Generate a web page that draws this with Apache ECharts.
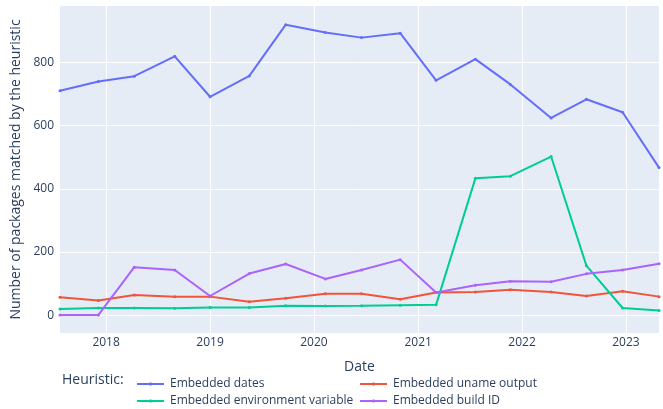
<!DOCTYPE html>
<html>
<head>
<meta charset="utf-8">
<script src="https://cdn.jsdelivr.net/npm/echarts@6/dist/echarts.min.js"></script>
<style>html,body{margin:0;padding:0;background:#fff;}#c{width:663px;height:409px;}</style>
</head>
<body>
<div id="c"></div>
<script>
const dates = ['2017-07-23','2017-12-05','2018-04-10','2018-08-30','2019-01-01','2019-05-19','2019-09-24','2020-02-10','2020-06-16','2020-10-30','2021-03-05','2021-07-21','2021-11-21','2022-04-13','2022-08-15','2022-12-20','2023-04-27'];
const embeddedDates = [710, 739, 756, 819, 691, 757, 919, 894, 878, 892, 743, 810, 730, 624, 683, 642, 467];
const embeddedUname = [57, 47, 64, 59, 59, 43, 54, 68, 68, 51, 72, 74, 81, 74, 61, 76, 59];
const embeddedEnv = [20, 23, 23, 22, 25, 25, 30, 29, 30, 32, 33, 433, 440, 502, 157, 23, 15];
const embeddedBuildId = [1, 1, 152, 143, 61, 132, 162, 115, 143, 176, 72, 95, 108, 106, 131, 143, 163];
const yearTicks = ['2018','2019','2020','2021','2022','2023'];
const yTicks = [0, 200, 400, 600, 800];

const seriesNames = ['Embedded dates','Embedded uname output','Embedded environment variable','Embedded build ID'];
const seriesData = [embeddedDates, embeddedUname, embeddedEnv, embeddedBuildId];
const colors = ['#636efa','#EF553B','#00cc96','#ab63fa'];
const txt = '#2a3f5f';
const font = 'Open Sans';

function ts(s){ const p = s.split('-').map(Number); return Date.UTC(p[0], p[1]-1, p[2]); }
const yearVals = yearTicks.map(y => Date.UTC(+y, 0, 1));

const chart = echarts.init(document.getElementById('c'), null, {renderer:'canvas'});
const legendPos = [[137,380],[360,380],[137,397],[360,397]];
const legendIcon = 'path://M0,1h27v2h-27z M12.5,0.5h2v3h-2z';
chart.setOption({
  animation: false,
  color: colors,
  textStyle: {fontFamily: font, color: txt},
  grid: {left: 60, right: 4, top: 6, bottom: 76, show: true, backgroundColor: '#E5ECF6', borderWidth: 0},
  xAxis: {
    type: 'value',
    min: ts(dates[0]), max: ts(dates[dates.length-1]),
    name: 'Date', nameLocation: 'middle', nameGap: 27,
    nameTextStyle: {fontFamily: font, fontSize: 14, color: txt},
    axisLine: {show: false}, 
    axisTick: {show: false, customValues: yearVals},
    axisLabel: {customValues: yearVals, fontFamily: font, fontSize: 12, color: txt, margin: 4,
      formatter: v => String(new Date(v).getUTCFullYear())},
    splitLine: {show: true, lineStyle: {color: '#ffffff', width: 1}}
  },
  yAxis: {
    type: 'value', min: -56, max: 978,
    name: 'Number of packages matched by the heuristic', nameLocation: 'middle', nameGap: 25,
    nameTextStyle: {fontFamily: font, fontSize: 14, color: txt},
    axisLine: {show: false},
    axisTick: {show: false, customValues: yTicks},
    axisLabel: {customValues: yTicks, fontFamily: font, fontSize: 12, color: txt, margin: 6},
    splitLine: {show: true, lineStyle: {color: '#ffffff', width: 1}}
  },
  graphic: [{type: 'text', left: 62, top: 373, style: {text: 'Heuristic:', font: '14px "Open Sans"', fill: txt}}],
  legend: seriesNames.map((n, i) => ({
    data: [{name: n, icon: legendIcon}], left: legendPos[i][0], top: legendPos[i][1] - 2, padding: 0,
    itemWidth: 27, itemHeight: 4, itemGap: 0,
    textStyle: {fontFamily: font, fontSize: 12, color: txt, padding: [0,0,0,1]}
  })),
  series: seriesNames.map((n, i) => ({
    name: n, type: 'line',
    data: dates.map((d, j) => [ts(d), seriesData[i][j]]),
    symbol: 'circle', symbolSize: 3, showSymbol: true,
    lineStyle: {width: 2, color: colors[i]},
    itemStyle: {color: colors[i]}
  }))
});
</script>
</body>
</html>
